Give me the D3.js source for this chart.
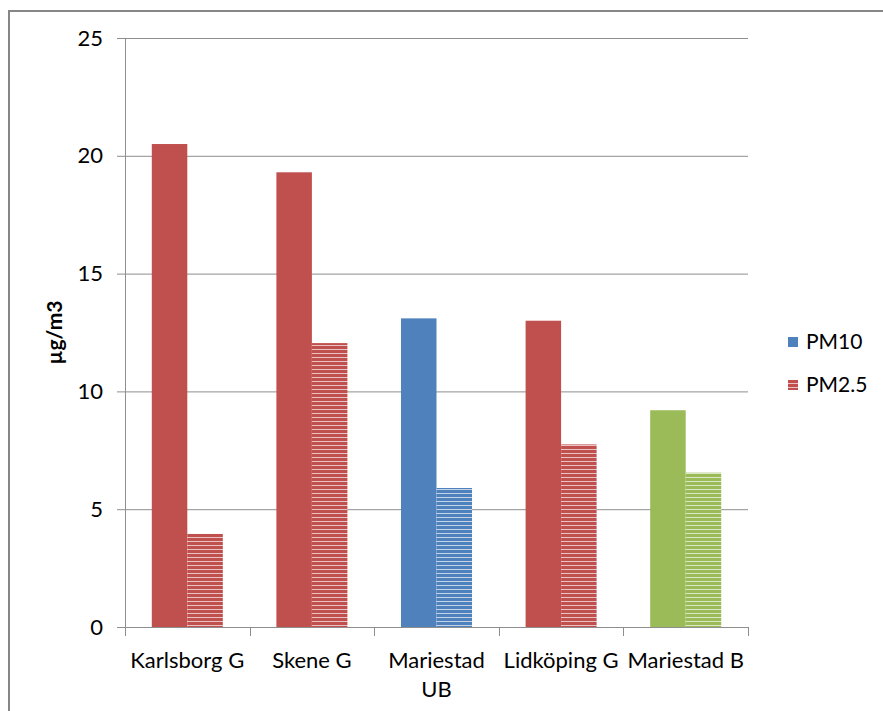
<!DOCTYPE html>
<html>
<head>
<meta charset="utf-8">
<script src="https://cdn.jsdelivr.net/npm/d3@7"></script>
<style>
  body { margin: 0; background: #fff; }
  text { font-family: Lato, "Open Sans", sans-serif; fill: #000; }
</style>
</head>
<body>
<div id="graph"></div>
<script>
var categories = ["Karlsborg G", "Skene G", "Mariestad UB", "Lidköping G", "Mariestad B"];
var pm10 = [20.5, 19.3, 13.1, 13.0, 9.2];
var pm25 = [3.95, 12.05, 5.9, 7.75, 6.55];
var barColors = ["#C0504D", "#C0504D", "#4F81BD", "#C0504D", "#9BBB59"];
var series = ["PM10", "PM2.5"];
var yTicks = [0, 5, 10, 15, 20, 25];

var W = 883, H = 711;
var margin = {top: 38, right: 135, bottom: 84, left: 125};
var width = W - margin.left - margin.right;
var height = H - margin.top - margin.bottom;

var svg = d3.select('#graph')
  .append('svg')
    .attr("width", W)
    .attr("height", H);

// outer chart border
svg.append("rect")
    .attr("x", 9).attr("y", 11)
    .attr("width", W + 20).attr("height", H + 20)
    .attr("fill", "none")
    .attr("stroke", "#868686")
    .attr("stroke-width", 2);

// striped patterns for PM2.5
var defs = svg.append("defs");
var uniqueColors = Array.from(new Set(barColors));
uniqueColors.forEach(function(c) {
    var p = defs.append("pattern")
        .attr("id", "stripe" + c.slice(1))
        .attr("patternUnits", "userSpaceOnUse")
        .attr("width", 4).attr("height", 4);
    p.append("rect").attr("width", 4).attr("height", 4).attr("fill", c);
    p.append("rect").attr("y", 3).attr("width", 4).attr("height", 1)
        .attr("fill", "#fff").attr("fill-opacity", 0.65);
});

var g = svg.append("g")
    .attr("transform", "translate(" + margin.left + "," + margin.top + ")");

var x = d3.scaleBand()
    .domain(categories)
    .range([0, width])
    .paddingInner(0.43)
    .paddingOuter(0.215);

var xs = d3.scaleBand()
    .domain(series)
    .range([0, x.bandwidth()]);

var y = d3.scaleLinear()
    .domain([0, 25])
    .range([height, 0]);

// gridlines
g.append("g")
  .selectAll("line")
  .data(yTicks.filter(function(d){ return d > 0; }))
  .enter().append("line")
    .attr("x1", 0).attr("x2", width)
    .attr("y1", function(d){ return y(d) + 0.5; })
    .attr("y2", function(d){ return y(d) + 0.5; })
    .attr("stroke", "#8e8e8e");

// Y axis
var yAxis = g.append("g")
    .call(d3.axisLeft(y).tickValues(yTicks).tickSize(8).tickPadding(14));
yAxis.select(".domain").attr("stroke", "#8e8e8e");
yAxis.selectAll(".tick line").attr("stroke", "#8e8e8e");
yAxis.selectAll("text")
    .style("font-size", "22px")
    .style("font-family", "Lato, 'Open Sans', sans-serif");

// bars
var groups = g.selectAll(".grp")
  .data(categories)
  .enter().append("g")
    .attr("transform", function(d){ return "translate(" + x(d) + ",0)"; });

groups.append("rect")
    .attr("x", xs("PM10"))
    .attr("width", xs.bandwidth())
    .attr("y", function(d, i){ return y(pm10[i]); })
    .attr("height", function(d, i){ return y(0) - y(pm10[i]); })
    .attr("fill", function(d, i){ return barColors[i]; });

groups.append("rect")
    .attr("x", xs("PM2.5"))
    .attr("width", xs.bandwidth())
    .attr("y", function(d, i){ return y(pm25[i]); })
    .attr("height", function(d, i){ return y(0) - y(pm25[i]); })
    .attr("fill", function(d, i){ return "url(#stripe" + barColors[i].slice(1) + ")"; });

// X axis
g.append("line")
    .attr("x1", 0).attr("x2", width)
    .attr("y1", height + 0.5).attr("y2", height + 0.5)
    .attr("stroke", "#8e8e8e");
var bounds = d3.range(categories.length + 1).map(function(i){ return i * x.step(); });
g.selectAll(".xtick")
  .data(bounds)
  .enter().append("line")
    .attr("x1", function(d){ return Math.round(d) + 0.5; })
    .attr("x2", function(d){ return Math.round(d) + 0.5; })
    .attr("y1", height).attr("y2", height + 9)
    .attr("stroke", "#8e8e8e");

var labels = g.selectAll(".xlab")
  .data(categories)
  .enter().append("text")
    .attr("text-anchor", "middle")
    .attr("x", function(d){ return x(d) + x.bandwidth() / 2; })
    .attr("y", height + 41)
    .style("font-size", "22px")
    .text(function(d){ return d; });

// wrap labels that are wider than a category
labels.each(function(d) {
    var t = d3.select(this);
    if (d.indexOf("UB") > 0 || this.getComputedTextLength() > x.step() + 4) {
        var words = d.split(" ");
        var cx = t.attr("x");
        t.text(null);
        t.append("tspan").attr("x", cx).text(words.slice(0, -1).join(" "));
        t.append("tspan").attr("x", cx).attr("dy", 29).text(words[words.length - 1]);
    }
});

// Y axis name
svg.append("text")
    .attr("text-anchor", "middle")
    .attr("transform", "translate(62," + (margin.top + height / 2) + ") rotate(-90)")
    .style("font-size", "21px")
    .style("font-weight", "bold")
    .text("µg/m3");

// legend
var legend = svg.append("g")
    .attr("transform", "translate(788,0)");
var legY = [342, 385];
series.forEach(function(s, i) {
    legend.append("rect")
        .attr("x", 0).attr("y", legY[i] - 5)
        .attr("width", 10).attr("height", 10)
        .attr("fill", i == 0 ? "#4F81BD" : "url(#stripeC0504D)");
    legend.append("text")
        .attr("x", 18).attr("y", legY[i])
        .attr("dy", "0.35em")
        .style("font-size", "21px")
        .text(s);
});
</script>
</body>
</html>
